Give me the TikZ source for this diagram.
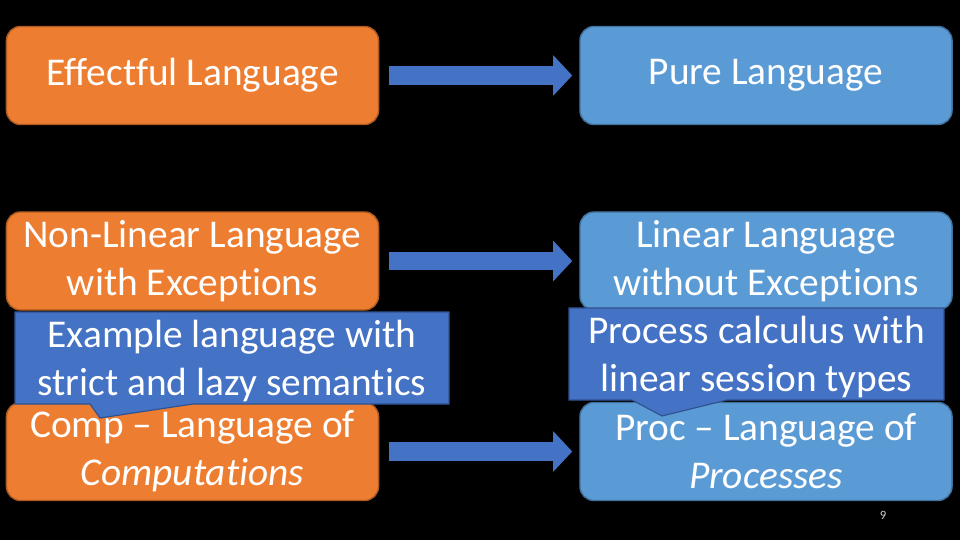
\documentclass[tikz,border=0pt]{standalone}
\usepackage{fontspec}
\setmainfont{Carlito}[Ligatures=NoCommon, RawFeature={-calt;-liga;-dlig}]
\usetikzlibrary{arrows.meta}

\definecolor{effOrange}{HTML}{ED7D31}
\definecolor{effBorder}{HTML}{AE5A21}
\definecolor{pureBlue}{HTML}{5B9BD5}
\definecolor{pureBorder}{HTML}{41719C}
\definecolor{noteBlue}{HTML}{4472C4}
\definecolor{noteBorder}{HTML}{2F528F}

\begin{document}
\begin{tikzpicture}[x=0.025cm, y=-0.025cm,
    lang/.style={rounded corners=10pt, line width=1pt, minimum width=9.3cm,
        minimum height=2.45cm, align=center, text=white,
        font=\fontsize{28}{34.3}\selectfont},
    effectful/.style={lang, draw=effBorder, fill=effOrange},
    pure/.style={lang, draw=pureBorder, fill=pureBlue},
    notebox/.style={draw=noteBorder, fill=noteBlue, line width=0.8pt},
    notetext/.style={align=center, text=white, font=\fontsize{28}{34.3}\selectfont},
    translate/.style={-{Triangle[length=13.5pt,width=28pt]}, line width=13.5pt,
        draw=noteBlue, shorten <=7pt, shorten >=5pt}]
    % Background of the slide
    \fill[black] (0, 0) rectangle (960, 540);

    % Left column
    \node[effectful] (effect) at (192.5, 75.5) {Effectful Language};
    \node[effectful] (nonlin) at (192.5, 261) {Non-Linear Language\\with Exceptions};
    \node[effectful] (comp) at (192.5, 451.5) {Comp -- Language of\\\textit{Computations}};

    % Right column
    \node[pure] (pure) at (766, 75.5) {Pure Language};
    \node[pure] (lin) at (766, 261) {Linear Language\\without Exceptions};
    \node[pure] (proc) at (766, 451.5) {Proc -- Language of\\\textit{Processes}};

    % Arrows from left to right
    \draw[translate] (effect) -- (pure);
    \draw[translate] (nonlin) -- (lin);
    \draw[translate] (comp) -- (proc);

    % Callouts
    \filldraw[notebox] (15, 312) -- (449, 312) -- (449, 404) -- (193, 404)
        -- (100, 418) -- (90, 404) -- (15, 404) -- cycle;
    \node[notetext] (strictlazy) at (232, 361) {Example language with\\strict and lazy semantics};

    \filldraw[notebox] (569, 308) -- (944, 308) -- (944, 400) -- (727, 400)
        -- (662, 416) -- (632, 400) -- (569, 400) -- cycle;
    \node[notetext] (session) at (756.5, 357) {Process calculus with\\linear session types};

    % Slide number
    \node[text=white!80!black, font=\fontsize{9}{11}\selectfont] (slidenum) at (883, 515) {9};
\end{tikzpicture}
\end{document}
